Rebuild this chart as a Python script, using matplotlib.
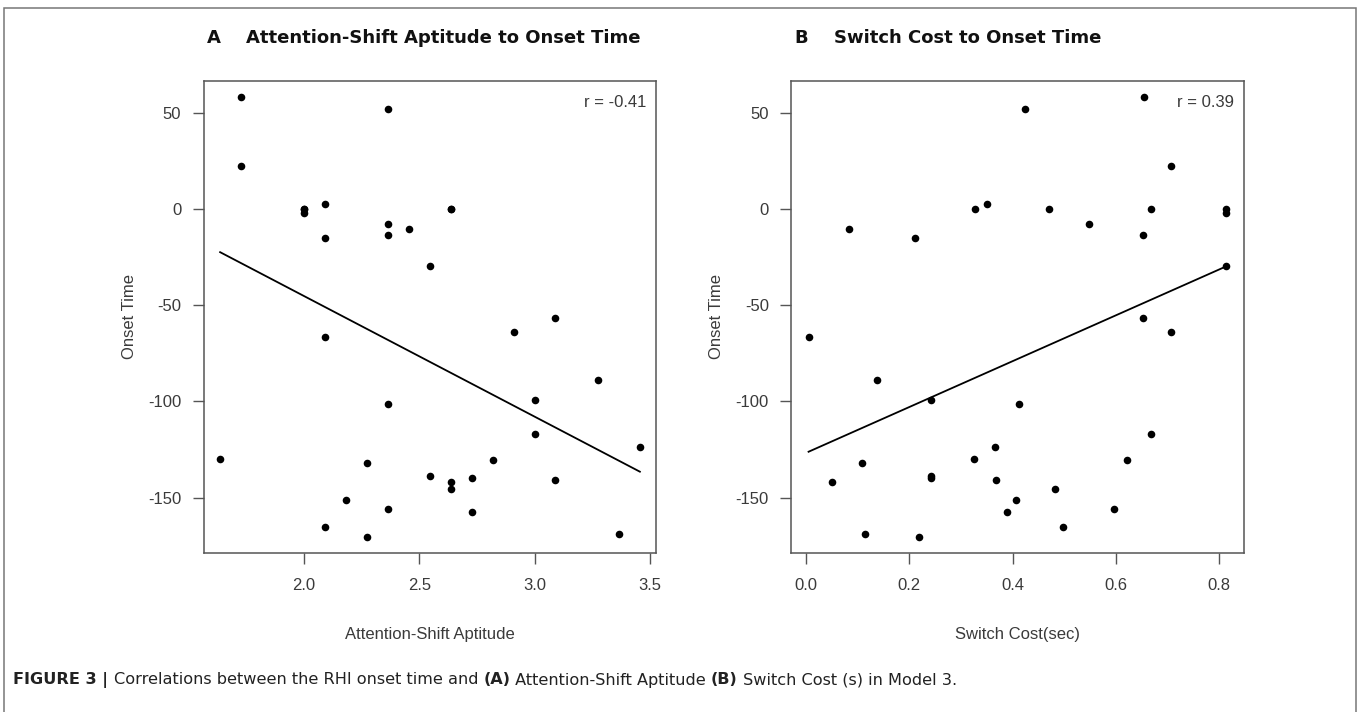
import numpy as np
import matplotlib
matplotlib.use("Agg")
import matplotlib.pyplot as plt
from matplotlib.patches import Rectangle

plt.rcParams["font.family"] = ["Liberation Sans", "DejaVu Sans"]
plt.rcParams["axes.unicode_minus"] = False

# panel A: attention-shift aptitude vs onset time
aptitude = [1.727, 1.727, 2.366, 2.0, 2.0, 2.0, 2.09, 2.09, 2.366, 2.366, 2.456,
            2.637, 2.637, 2.546, 2.09, 2.91, 3.09, 3.273, 3.0, 2.366, 3.0, 3.456,
            1.637, 2.273, 2.819, 2.546, 2.637, 2.637, 2.729, 3.09, 2.181, 2.366,
            2.729, 2.09, 2.273, 3.364]
onset_a = [58.1, 22.4, 52.2, 0.0, 0.0, -2.3, 2.6, -15.3, -8.0, -13.5, -10.2,
           0.0, 0.0, -29.6, -66.7, -63.8, -56.5, -88.9, -99.5, -101.6, -116.8, -123.6,
           -129.8, -132.2, -130.7, -138.8, -141.8, -145.8, -139.7, -140.7, -151.5, -155.8,
           -157.5, -165.2, -170.4, -169.0]

# panel B: switch cost vs onset time
switch_cost = [0.005, 0.051, 0.084, 0.108, 0.114, 0.137, 0.211, 0.219, 0.243, 0.243,
               0.243, 0.327, 0.326, 0.35, 0.365, 0.367, 0.389, 0.407, 0.412, 0.424,
               0.47, 0.482, 0.497, 0.548, 0.596, 0.621, 0.652, 0.652, 0.654, 0.668,
               0.668, 0.706, 0.706, 0.814, 0.814, 0.814]
onset_b = [-66.7, -142.1, -10.2, -132.2, -169.2, -88.9, -15.3, -170.5, -99.5, -138.8,
           -139.7, 0.0, -129.8, 2.6, -123.6, -140.7, -157.5, -151.5, -101.6, 52.2,
           0.0, -145.8, -165.2, -8.0, -155.8, -130.7, -13.5, -56.5, 58.1, 0.0,
           -116.8, 22.4, -63.8, 0.0, -2.3, -29.6]

panels = [
    ("A", "Attention-Shift Aptitude to Onset Time", "Attention-Shift Aptitude",
     aptitude, onset_a, "r = -0.41", [2.0, 2.5, 3.0, 3.5], (1.565, 3.528)),
    ("B", "Switch Cost to Onset Time", "Switch Cost(sec)",
     switch_cost, onset_b, "r = 0.39", [0.0, 0.2, 0.4, 0.6, 0.8], (-0.029, 0.848)),
]
y_ticks = [-150, -100, -50, 0, 50]

W, H = 1358, 712
fig = plt.figure(figsize=(W / 100, H / 100), dpi=100)
fig.patch.set_facecolor("white")

axis_grey = "#555555"
text_grey = "#3a3a3a"
head_font = ["DejaVu Sans"]

left_px = [203.5, 791]
for i, (letter, title, xlabel, xs, ys, rtext, xticks, xlim) in enumerate(panels):
    x0 = left_px[i]
    ax = fig.add_axes([x0 / W, 1 - 553.3 / H, 453 / W, 472.6 / H])
    ax.scatter(xs, ys, s=30, color="black", zorder=3, linewidths=0)

    slope, intercept = np.polyfit(xs, ys, 1)
    lx = np.array([min(xs), max(xs)])
    ax.plot(lx, intercept + slope * lx, color="black", lw=1.3)

    ax.set_xlim(*xlim)
    ax.set_ylim(-179.0, 66.7)
    ax.set_xticks(xticks)
    ax.set_xticklabels([f"{t:.1f}" for t in xticks])
    ax.set_yticks(y_ticks)
    for s in ax.spines.values():
        s.set_color(axis_grey)
        s.set_linewidth(1.1)
    ax.tick_params(axis="x", length=8, width=1.0, color=axis_grey,
                   labelcolor=text_grey, labelsize=12, pad=10)
    ax.tick_params(axis="y", length=8, width=1.0, color=axis_grey,
                   labelcolor=text_grey, labelsize=12, pad=8)

    ax.set_xlabel(xlabel, fontsize=12, color=text_grey)
    ax.xaxis.set_label_coords(0.5, -0.155)
    ax.set_ylabel("Onset Time", fontsize=12, color=text_grey)
    ax.yaxis.set_label_coords(-0.147, 0.5)

    ax.text(0.978, 0.953, rtext, transform=ax.transAxes, ha="right",
            va="center", fontsize=12, color=text_grey)

    fig.text((x0 + 3) / W, 1 - 38 / H, letter, fontsize=13, fontweight="bold",
             family=head_font, ha="left", va="center", color="#111111")
    fig.text((x0 + 43) / W, 1 - 38 / H, title, fontsize=13, fontweight="bold",
             family=head_font, ha="left", va="center", color="#111111")

# caption with mixed bold / normal pieces, placed one after another
caption = [
    ("FIGURE 3 | ", "bold"),
    ("Correlations between the RHI onset time and ", "normal"),
    ("(A)", "bold"),
    (" Attention-Shift Aptitude ", "normal"),
    ("(B)", "bold"),
    (" Switch Cost (s) in Model 3.", "normal"),
]
fig.canvas.draw()
renderer = fig.canvas.get_renderer()
x_cursor = 13
for txt, weight in caption:
    t = fig.text(x_cursor / W, 1 - 680 / H, txt, fontsize=11.6, fontweight=weight,
                 family=head_font, color="#222222", ha="left", va="center")
    x_cursor = t.get_window_extent(renderer).x1

# outer frame of the figure
fig.patches.append(Rectangle((3.5 / W, -0.02), 1352 / W, 1 - 8 / H + 0.02,
                             transform=fig.transFigure, fill=False,
                             edgecolor="#777777", lw=1.1))

fig.savefig("out.png", dpi=100)
